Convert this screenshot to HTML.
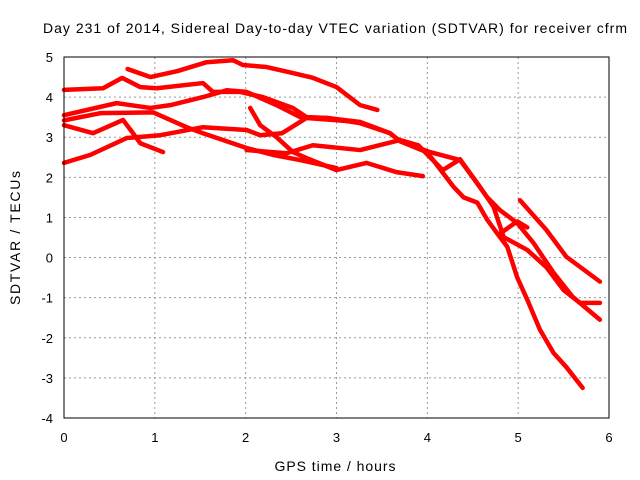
<!DOCTYPE html>
<html><head><meta charset="utf-8"><style>
body{margin:0;background:#fff;}
svg{display:block;font-family:"Liberation Sans",sans-serif;}
</style></head><body>
<svg id="chart" width="640" height="480">
<text x="335" y="33" font-size="14" text-anchor="middle" textLength="584" lengthAdjust="spacing">Day 231 of 2014, Sidereal Day-to-day VTEC variation (SDTVAR) for receiver cfrm</text>
<text x="335" y="471" font-size="14" text-anchor="middle" textLength="121" lengthAdjust="spacing">GPS time / hours</text>
<text x="20" y="238" font-size="14" text-anchor="middle" textLength="134" lengthAdjust="spacing" transform="rotate(-90 20 238)">SDTVAR / TECUs</text>
<g id="grid"></g><g id="series"></g><g id="ticks"></g>
<rect x="64" y="57" width="545" height="361" fill="none" stroke="#000"/>
</svg>
<script>
const xTicks=[0,1,2,3,4,5,6];
const yTicks=[5,4,3,2,1,0,-1,-2,-3,-4];
const sA_x=[0.7,0.95,1.25,1.57,1.86,1.97,2.23,2.52,2.74,3.0,3.26,3.45];
const sA_y=[4.7,4.5,4.65,4.87,4.92,4.8,4.75,4.6,4.48,4.25,3.8,3.68];
const sB_x=[0,0.43,0.64,0.84,1.02,1.53,1.64,1.94,2.19,2.52,2.67,2.9,3.26,3.59,3.7,4.03,4.36,4.5,4.66,4.8,4.99,5.17,5.39,5.6,5.9];
const sB_y=[4.18,4.22,4.48,4.25,4.22,4.35,4.13,4.13,4.0,3.73,3.5,3.48,3.35,3.1,2.9,2.63,2.43,2.0,1.5,1.18,0.86,0.36,-0.38,-0.98,-1.55];
const sC_x=[0,0.58,0.95,1.17,1.53,1.79,2.01,2.34,2.6,2.9,3.26];
const sC_y=[3.55,3.85,3.73,3.8,4.0,4.17,4.13,3.8,3.5,3.48,3.38];
const sD_x=[0,0.32,0.65,0.75,0.84,1.09];
const sD_y=[3.3,3.1,3.43,3.13,2.85,2.63];
const sE_x=[0,0.4,0.98,1.35,1.53,2.01,2.3,2.6,3.0];
const sE_y=[3.42,3.6,3.62,3.25,3.1,2.73,2.56,2.43,2.23];
const sF_x=[0,0.29,0.69,1.06,1.53,2.01,2.16,2.4,2.67,3.26,3.59,3.7,4.0,4.29,4.4,4.55,4.66,4.77,4.88,4.99,5.1,5.24,5.39,5.53,5.71];
const sF_y=[2.36,2.56,2.98,3.05,3.25,3.18,3.05,3.1,3.48,3.38,3.1,2.9,2.62,1.76,1.5,1.37,0.94,0.6,0.27,-0.5,-1.05,-1.8,-2.38,-2.73,-3.25];
const sG_x=[2.01,2.45,2.74,3.26,3.7,3.9,4.17,4.36,4.58,4.73,4.84,5.1,5.31,5.5,5.68,5.9];
const sG_y=[2.68,2.6,2.8,2.68,2.93,2.8,2.18,2.45,1.76,1.26,0.51,0.19,-0.24,-0.81,-1.13,-1.13];
const sH_x=[5.02,5.31,5.53,5.9];
const sH_y=[1.43,0.69,0.02,-0.6];
const sI_x=[2.05,2.16,2.34,2.52,2.67,3.0,3.33,3.66,3.95];
const sI_y=[3.73,3.3,3.0,2.63,2.48,2.18,2.36,2.13,2.03];
const sJ_x=[4.8,4.99,5.1];
const sJ_y=[0.6,0.9,0.75];
const seriesX=[sA_x,sB_x,sC_x,sD_x,sE_x,sF_x,sG_x,sH_x,sI_x,sJ_x];
const seriesY=[sA_y,sB_y,sC_y,sD_y,sE_y,sF_y,sG_y,sH_y,sI_y,sJ_y];
const NS="http://www.w3.org/2000/svg";
const X=v=>64+v*(545/6), Y=v=>57+(5-v)*(361/9);
const grid=document.getElementById('grid'),ticks=document.getElementById('ticks'),ser=document.getElementById('series');
function mk(t,a,p){const e=document.createElementNS(NS,t);for(const k in a)e.setAttribute(k,a[k]);p.appendChild(e);return e;}
xTicks.forEach(v=>{
 const g=mk('line',{x1:X(v),x2:X(v),y1:57,y2:418,stroke:'#999','stroke-dasharray':'2,3'},grid);
 
 
 const t=mk('text',{x:X(v),y:442,'font-size':13,'text-anchor':'middle'},ticks);t.textContent=v;
 
 
});
yTicks.forEach(v=>{
 const g=mk('line',{x1:64,x2:609,y1:Y(v),y2:Y(v),stroke:'#999','stroke-dasharray':'2,3'},grid);
 
 
 const t=mk('text',{x:53,y:Y(v)+5,'font-size':13,'text-anchor':'end'},ticks);t.textContent=v;
 
 
});
seriesX.forEach((xs,i)=>{
 const ys=seriesY[i];
 const pts=xs.map((x,j)=>X(x)+','+Y(ys[j])).join(' ');
 const p=mk('polyline',{points:pts,fill:'none',stroke:'#f00','stroke-width':4.5,'stroke-linejoin':'round','stroke-linecap':'round'},ser);
 
 
});
</script>
</body></html>
